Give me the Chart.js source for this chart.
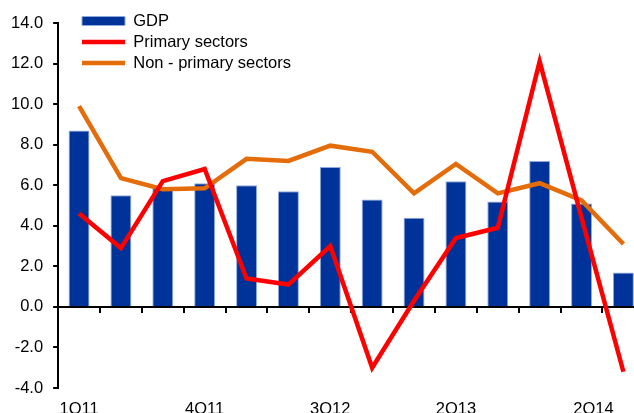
<!DOCTYPE html>
<html>
<head>
<meta charset="utf-8">
<script src="https://cdn.jsdelivr.net/npm/chart.js@4.4.1/dist/chart.umd.min.js"></script>
<style>
  html, body { margin: 0; padding: 0; overflow: hidden; background: #fff; }
  #wrap { position: absolute; left: 0; top: 0; width: 656px; height: 425px; }
</style>
</head>
<body>
<div id="wrap"><canvas id="growthChart" width="656" height="425"></canvas></div>
<script>
// quarters on the x axis (only some of them get a label)
const quarters = ['1Q11', '2Q11', '3Q11', '4Q11', '1Q12', '2Q12', '3Q12', '4Q12',
                  '1Q13', '2Q13', '3Q13', '4Q13', '1Q14', '2Q14'];
const labelledQuarters = ['1Q11', '4Q11', '3Q12', '2Q13'];
const lastQuarterLabel = '2Q14';

// growth rates, % y/y
const gdp = [8.7, 5.5, 5.9, 6.1, 6.0, 5.7, 6.9, 5.3, 4.4, 6.2, 5.2, 7.2, 5.1, 1.7];
const primarySectors = [4.6, 2.9, 6.2, 6.8, 1.4, 1.1, 3.0, -3.0, 0.3, 3.4, 3.9, 12.1, 4.4, -3.2];
const nonPrimarySectors = [9.9, 6.35, 5.8, 5.85, 7.3, 7.2, 7.95, 7.65, 5.6, 7.05, 5.6, 6.1, 5.25, 3.1];

const yMin = -4, yMax = 14, yStep = 2;

Chart.defaults.color = '#000';
Chart.defaults.font.family = '"Liberation Sans", Arial, sans-serif';
Chart.defaults.font.size = 16.5;

// put the legend inside the plot, top left
const legendInPlot = {
  id: 'legendInPlot',
  afterLayout(chart) {
    const lg = chart.legend;
    if (!lg) return;
    const w = lg.width, h = lg.height;
    lg.left = 77.5;
    lg.top = 8.25;
    lg.right = lg.left + w;
    lg.bottom = lg.top + h;
  }
};

const ctx = document.getElementById('growthChart').getContext('2d');
new Chart(ctx, {
  type: 'bar',
  data: {
    labels: quarters,
    datasets: [
      {
        label: 'GDP',
        data: gdp,
        backgroundColor: '#003399',
        borderColor: '#8EA9DB',
        borderWidth: 1,
        barPercentage: 0.5,
        categoryPercentage: 1.0,
        pointStyle: 'rect',
        order: 3
      },
      {
        type: 'line',
        label: 'Primary sectors',
        data: primarySectors,
        borderColor: '#FF0000',
        backgroundColor: '#FF0000',
        borderWidth: 4.5,
        pointRadius: 0,
        tension: 0,
        pointStyle: 'line',
        order: 1
      },
      {
        type: 'line',
        label: 'Non - primary sectors',
        data: nonPrimarySectors,
        borderColor: '#E46C0A',
        backgroundColor: '#E46C0A',
        borderWidth: 4.5,
        pointRadius: 0,
        tension: 0,
        pointStyle: 'line',
        order: 2
      }
    ]
  },
  options: {
    responsive: false,
    animation: false,
    layout: { padding: { left: 1, top: 23, right: 2, bottom: 37 } },
    plugins: {
      tooltip: { enabled: false },
      legend: {
        position: 'chartArea',
        align: 'start',
        labels: {
          usePointStyle: true,
          pointStyleWidth: 43,
          boxHeight: 9,
          padding: 4.5,
          color: '#000',
          sort: (a, b) => a.datasetIndex - b.datasetIndex
        }
      }
    },
    scales: {
      x: {
        position: { y: 0 },
        offset: true,
        grid: { offset: true, drawOnChartArea: false, drawTicks: true, tickLength: 5, color: '#000', lineWidth: 2 },
        border: { display: true, color: '#000', width: 2 },
        ticks: { display: false }
      },
      x2: {
        axis: 'x',
        type: 'category',
        position: { y: yMin },
        offset: true,
        grid: { display: false, drawTicks: false },
        border: { display: false },
        ticks: {
          autoSkip: false,
          maxRotation: 0,
          padding: 12,
          callback: function (value) {
            const q = this.getLabelForValue(value);
            return labelledQuarters.includes(q) ? q : '';
          }
        }
      },
      x3: {
        axis: 'x',
        type: 'category',
        position: { y: yMin },
        offset: true,
        grid: { display: false, drawTicks: false },
        border: { display: false },
        ticks: {
          autoSkip: false,
          maxRotation: 0,
          padding: 12,
          labelOffset: -30,
          callback: function (value) {
            const q = this.getLabelForValue(value);
            return q === lastQuarterLabel ? q : '';
          }
        }
      },
      y: {
        min: yMin,
        max: yMax,
        grid: { drawOnChartArea: false, drawTicks: true, tickLength: 5, color: '#000', lineWidth: 2 },
        border: { display: true, color: '#000', width: 2 },
        ticks: {
          stepSize: yStep,
          padding: 10,
          callback: (v) => v.toFixed(1)
        }
      }
    }
  },
  plugins: [legendInPlot]
});
</script>
</body>
</html>
